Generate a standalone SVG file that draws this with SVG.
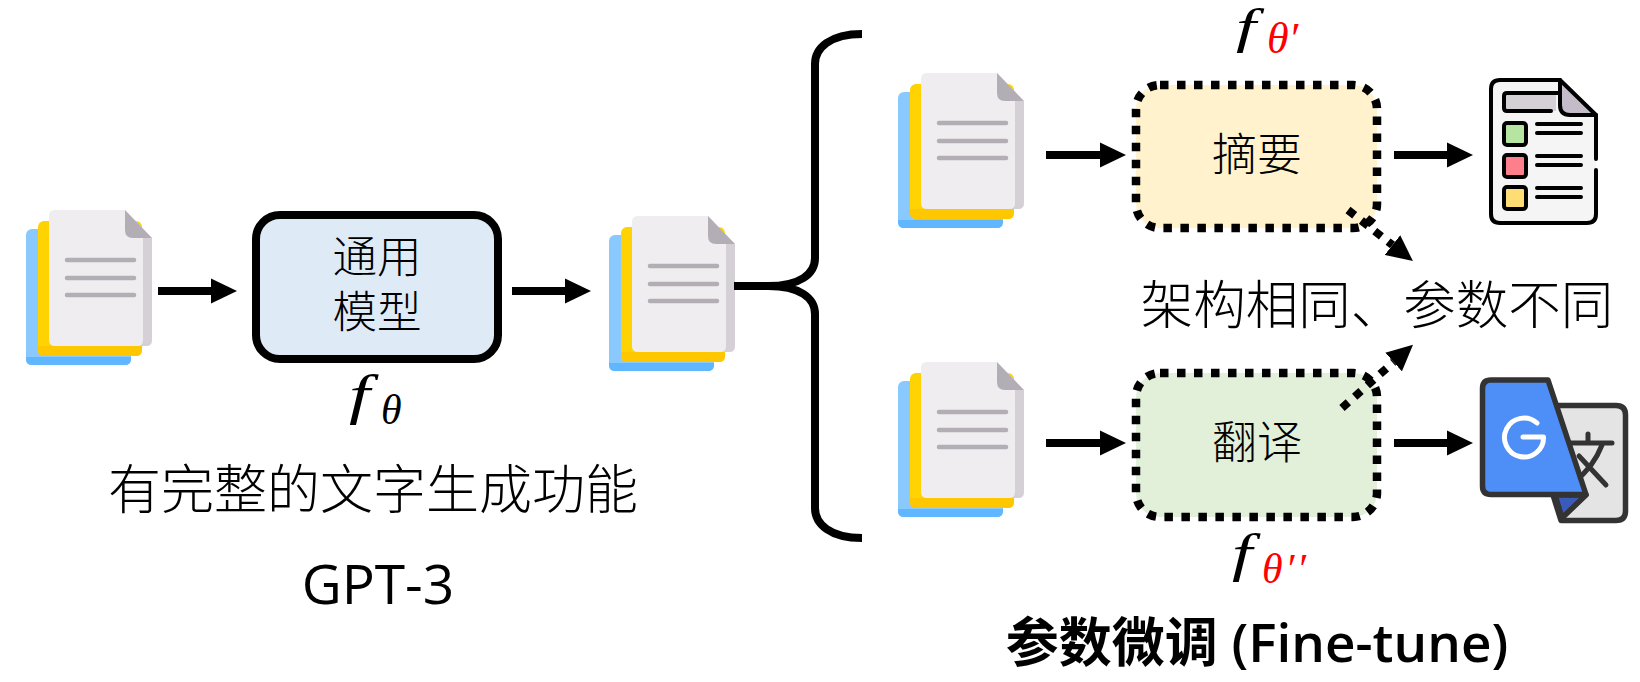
<svg xmlns="http://www.w3.org/2000/svg" width="1640" height="682" viewBox="0 0 1640 682">
<style>
.cjk{font-family:"Liberation Sans","Noto Sans CJK SC",sans-serif;font-weight:300;fill:#000}
.lat{font-family:"Open Sans","Noto Sans CJK SC",sans-serif;fill:#000}
.m{font-family:"Liberation Serif",serif;font-style:italic;fill:#000}
.red{fill:#f00}
.arrow{fill:none;stroke:#000;stroke-width:8;marker-end:url(#head)}
.dot{stroke-dasharray:8.5 8.5}
.brace{fill:none;stroke:#000;stroke-width:8}
.ico{fill:none;stroke:#000;stroke-width:4;stroke-linecap:round;stroke-linejoin:round}
.gt{fill:none;stroke:#333;stroke-width:5;stroke-linecap:round;stroke-linejoin:round}
.ln{stroke:#b3adb5;stroke-width:4.5;stroke-linecap:round}
</style>
<defs>
<marker id="head" viewBox="0 -13 26 26" markerWidth="26" markerHeight="26" refX="0" refY="0" orient="auto" markerUnits="userSpaceOnUse"><path d="M0 -12.5L26 0L0 12.5Z" fill="#000"/></marker>
<symbol id="doc" width="130" height="160" viewBox="-24 -1 130 160" overflow="visible">
<rect x="-23" y="19" width="105" height="136" rx="6" fill="#8ac9fe"/>
<path d="M-15 147H82V149Q82 155 76 155H-17Q-23 155 -23 149V147Z" fill="#60b7ff"/>
<rect x="-11" y="11" width="104" height="135" rx="6" fill="#ffd301"/>
<path d="M-4 136H93V140Q93 146 87 146H-5Q-11 146 -11 140V136Z" fill="#ffc700"/>
<path d="M6 0H76L103 28V130Q103 136 97 136H6Q0 136 0 130V6Q0 0 6 0Z" fill="#efedef"/>
<path d="M94 28H103V130Q103 136 97 136H88Q94 136 94 130Z" fill="#d5d0d6"/>
<path d="M76 0L103 28H84Q76 28 76 20Z" fill="#b3adb5"/>
<line class="ln" x1="18" y1="50" x2="85" y2="50"/>
<line class="ln" x1="18" y1="68" x2="85" y2="68"/>
<line class="ln" x1="18" y1="85" x2="85" y2="85"/>
</symbol>
</defs>
<rect width="1640" height="682" fill="#fff"/>

<g id="doc-input"><use href="#doc" x="25" y="209"/></g>
<g id="doc-output"><use href="#doc" x="608" y="215"/></g>
<g id="doc-top"><use href="#doc" x="897" y="72"/></g>
<g id="doc-bottom"><use href="#doc" x="897" y="361"/></g>

<g id="connectors">
<path class="brace" d="M862 34C830 34 815 48 815 64V258C815 274 800 286 768 286H734"/>
<path class="brace" d="M768 286C800 286 815 298 815 314V508C815 524 830 538 862 538"/>
<line class="arrow" x1="158" y1="291" x2="211" y2="291"/>
<line class="arrow" x1="512" y1="291" x2="565" y2="291"/>
<line class="arrow" x1="1046" y1="155" x2="1100" y2="155"/>
<line class="arrow" x1="1394" y1="155" x2="1447" y2="155"/>
<line class="arrow" x1="1046" y1="443" x2="1100" y2="443"/>
<line class="arrow" x1="1394" y1="443" x2="1447" y2="443"/>
</g>

<g id="model">
<rect x="256" y="215" width="242" height="144" rx="24" fill="#deeaf6" stroke="#000" stroke-width="8"/>
<text class="cjk" font-size="44.5" text-anchor="middle" x="377" y="273">通用</text>
<text class="cjk" font-size="44.5" text-anchor="middle" x="377" y="328">模型</text>
</g>
<g id="f-theta"><text class="m" font-size="54" transform="translate(349 413) scale(1.4 1)">f</text><text class="m" font-size="42" x="381" y="424">θ</text></g>

<g id="summary">
<rect x="1136" y="85" width="241" height="143" rx="24" fill="#fff2cc" stroke="#000" stroke-width="8.5" class="dot"/>
<text class="cjk" font-size="45" text-anchor="middle" x="1257" y="171">摘要</text>
</g>
<g id="f-theta-1"><text class="m" font-size="48" transform="translate(1236 43) scale(1.5 1)">f</text><text class="m red" font-size="44" x="1267" y="53">θ′</text></g>

<g id="translate">
<rect x="1136" y="373" width="241" height="144" rx="24" fill="#e2efd9" stroke="#000" stroke-width="8.5" class="dot"/>
<text class="cjk" font-size="45" text-anchor="middle" x="1257" y="459">翻译</text>
</g>
<g id="f-theta-2"><text class="m" font-size="52" transform="translate(1232 571) scale(1.4 1)">f</text><text class="m red" font-size="42" letter-spacing="2.5" x="1262" y="583">θ′′</text></g>

<g id="dotted-connectors">
<line class="arrow dot" x1="1348" y1="210" x2="1392.5" y2="245"/>
<line class="arrow dot" x1="1342" y1="408" x2="1393.6" y2="362"/>
</g>

<g id="report-icon">
<path d="M1500 80H1560L1596 115V214Q1596 223 1587 223H1500Q1491 223 1491 214V89Q1491 80 1500 80Z" fill="#f5f5f5"/>
<path d="M1507 93H1556V111H1507Q1504 111 1504 108V96Q1504 93 1507 93Z" fill="#d5d0d6"/>
<path d="M1560 80L1596 115H1570Q1560 115 1560 105Z" fill="#c4bdc9"/>
<rect x="1504" y="123" width="22" height="22" rx="3" fill="#b5e5a0"/>
<rect x="1504" y="155" width="22" height="22" rx="3" fill="#fe7f8c"/>
<rect x="1504" y="187" width="22" height="22" rx="3" fill="#ffdd75"/>
<path class="ico" d="M1596 159V115L1560 80H1500Q1491 80 1491 89V214Q1491 223 1500 223H1587Q1596 223 1596 214V170"/>
<path class="ico" d="M1560 80V105Q1560 115 1570 115H1596"/>
<path class="ico" d="M1560 93H1507Q1504 93 1504 96V108Q1504 111 1507 111H1551"/>
<rect class="ico" x="1504" y="123" width="22" height="22" rx="3"/>
<rect class="ico" x="1504" y="155" width="22" height="22" rx="3"/>
<rect class="ico" x="1504" y="187" width="22" height="22" rx="3"/>
<path class="ico" d="M1537 124H1581M1537 133H1581M1537 156H1581M1537 165H1581M1537 188H1581M1537 197H1581"/>
</g>

<g id="translate-icon">
<path d="M1550 405.500H1616Q1625.500 405.500 1625.500 415V511Q1625.500 520.500 1616 520.500H1561L1553 495Z" fill="#e4e4e4" stroke="#333" stroke-width="5.500" stroke-linejoin="round"/>
<path class="gt" d="M1569 443H1612M1588 434V443M1579 456L1606 485M1602 445C1597 458 1590 470 1574 482"/>
<path d="M1555 495L1562 518L1586 495Z" fill="#3a5bbc" stroke="#333" stroke-width="5.500" stroke-linejoin="round"/>
<path d="M1491 380H1548L1586 494.500H1491Q1482.500 494.500 1482.500 486V388.500Q1482.500 380 1491 380Z" fill="#4e8ef7" stroke="#333" stroke-width="5.500" stroke-linejoin="round"/>
<path d="M1537 423A19.500 19.500 0 1 0 1543.500 437H1523" fill="none" stroke="#fff" stroke-width="5" stroke-linecap="round" stroke-linejoin="round"/>
</g>

<g id="labels">
<text class="cjk" font-size="53" text-anchor="middle" x="373" y="509">有完整的文字生成功能</text>
<text class="lat" font-size="55" text-anchor="middle" x="378" y="604">GPT-3</text>
<text class="cjk" font-size="52.500" text-anchor="middle" x="1377" y="324">架构相同、参数不同</text>
<text class="lat" font-size="53" font-weight="600" text-anchor="middle" x="1257" y="662">参数微调 (Fine-tune)</text>
</g>
</svg>
